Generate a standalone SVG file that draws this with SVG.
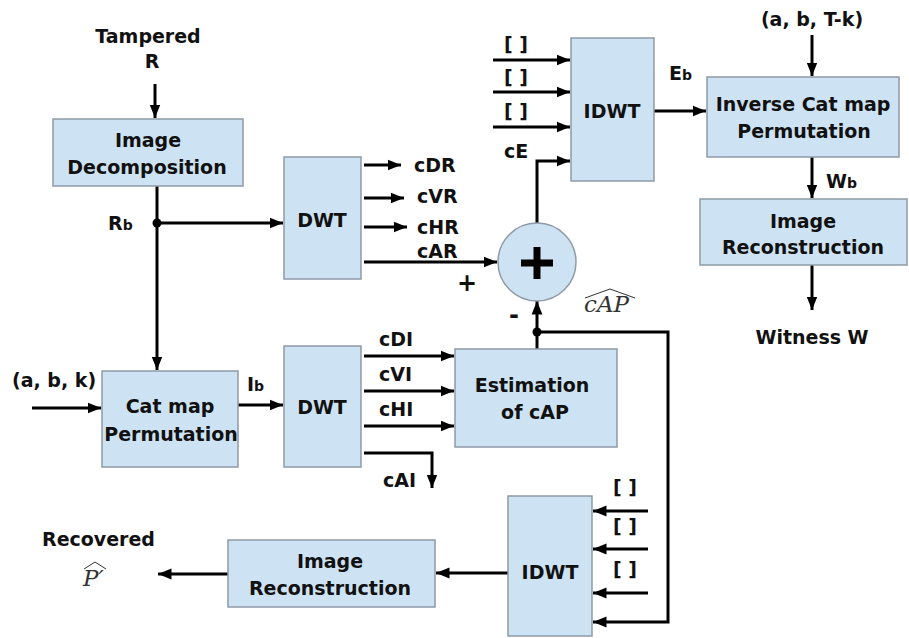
<svg xmlns="http://www.w3.org/2000/svg" width="909" height="638" viewBox="0 0 909 638">
<defs>
<marker id="ah" viewBox="0 0 10 10" refX="10" refY="5" markerWidth="4.5" markerHeight="4.5" orient="auto" markerUnits="strokeWidth">
<path d="M0,1 L10,5 L0,9 z" fill="#000"/>
</marker>
<style>
.box{fill:#cde3f3;stroke:#8e9aa6;stroke-width:1.5}
.t{font-family:"DejaVu Sans",Verdana,sans-serif;font-weight:bold;font-size:19px;fill:#111}
.m{text-anchor:middle}
.sub{font-size:14px}
.ln{fill:none;stroke:#000;stroke-width:3}
.ar{fill:none;stroke:#000;stroke-width:3;marker-end:url(#ah)}
.math{font-family:"DejaVu Serif","Liberation Serif",serif;font-style:italic;font-size:23px;fill:#333}
.hat{fill:none;stroke:#333;stroke-width:1}
</style>
</defs>
<rect width="909" height="638" fill="#fff"/>

<g id="labels">
<text class="t m" x="148" y="43">Tampered</text>
<text class="t m" x="152" y="68">R</text>
<text class="t" x="108" y="230">R<tspan class="sub">b</tspan></text>
<text class="t" x="12" y="387">(a, b, k)</text>
<text class="t" x="247" y="391">I<tspan class="sub">b</tspan></text>
<text class="t" x="414" y="172">cDR</text>
<text class="t" x="417" y="203">cVR</text>
<text class="t" x="417" y="234">cHR</text>
<text class="t" x="417" y="258">cAR</text>
<text class="t" x="457" y="291" style="font-size:24px">+</text>
<text class="t" x="509" y="323" style="font-size:24px">-</text>
<text class="t" x="379" y="346">cDI</text>
<text class="t" x="379" y="381">cVI</text>
<text class="t" x="379" y="416">cHI</text>
<text class="t" x="383" y="487">cAI</text>
<text class="t" x="504" y="51">[ ]</text>
<text class="t" x="504" y="84">[ ]</text>
<text class="t" x="504" y="118">[ ]</text>
<text class="t" x="504" y="158">cE</text>
<text class="t" x="669" y="80">E<tspan class="sub">b</tspan></text>
<text class="t m" x="812" y="26">(a, b, T-k)</text>
<text class="t" x="826" y="188">W<tspan class="sub">b</tspan></text>
<text class="t m" x="812" y="344">Witness  W</text>
<text class="t" x="613" y="494">[ ]</text>
<text class="t" x="613" y="533">[ ]</text>
<text class="t" x="613" y="576">[ ]</text>
<text class="t" x="42" y="546">Recovered</text>
<text class="math" x="584" y="312">cAP</text>
<path class="hat" d="M585,298 L610,289 L635,298"/>
<text class="math" x="83" y="586">P′</text>
<path class="hat" d="M84,569 L95,562 L106,569"/>
</g>

<g id="connectors">
<path class="ar" d="M155,84 V118"/>
<path class="ln" d="M157,186 V223"/>
<path class="ar" d="M157,223 V370"/>
<path class="ar" d="M157,223 H283"/>
<circle cx="157" cy="223" r="4.5" fill="#000"/>
<path class="ar" d="M364,165 H401"/>
<path class="ar" d="M364,198 H404"/>
<path class="ar" d="M364,227 H407"/>
<path class="ar" d="M364,262 H497"/>
<path class="ar" d="M32,408 H101"/>
<path class="ar" d="M238,405 H283"/>
<path class="ar" d="M364,356 H454"/>
<path class="ar" d="M364,391 H454"/>
<path class="ar" d="M364,426 H454"/>
<path class="ar" d="M364,453 H432 V488"/>
<path class="ar" d="M537,349 V301"/>
<circle cx="537" cy="332" r="4.5" fill="#000"/>
<path class="ar" d="M537,332 H668 V622 H593"/>
<path class="ar" d="M537,223 V161 H570"/>
<path class="ar" d="M493,60 H570"/>
<path class="ar" d="M493,92 H570"/>
<path class="ar" d="M493,127 H570"/>
<path class="ar" d="M654,111 H706"/>
<path class="ar" d="M812,35 V76"/>
<path class="ar" d="M812,157 V198"/>
<path class="ar" d="M812,265 V310"/>
<path class="ar" d="M648,511 H593"/>
<path class="ar" d="M648,549 H593"/>
<path class="ar" d="M648,593 H593"/>
<path class="ar" d="M508,573 H436"/>
<path class="ar" d="M228,574 H158"/>
</g>

<g id="decomp"><rect class="box" x="53" y="119" width="190" height="67"/>
<text class="t m" x="148" y="147">Image</text><text class="t m" x="147" y="174">Decomposition</text></g>
<g id="dwt1"><rect class="box" x="284" y="157" width="77" height="122"/>
<text class="t m" x="322" y="227">DWT</text></g>
<g id="catmap"><rect class="box" x="102" y="371" width="136" height="96"/>
<text class="t m" x="170" y="413">Cat map</text><text class="t m" x="171" y="441">Permutation</text></g>
<g id="dwt2"><rect class="box" x="284" y="346" width="77" height="121"/>
<text class="t m" x="322" y="414">DWT</text></g>
<g id="estim"><rect class="box" x="455" y="349" width="162" height="98"/>
<text class="t m" x="532" y="392">Estimation</text><text class="t m" x="535" y="419">of cAP</text></g>
<g id="sum"><circle cx="537" cy="262" r="39" fill="#cde3f3" stroke="#8e9aa6" stroke-width="1.5"/>
<path d="M537,247 V279 M521,263 H553" stroke="#000" stroke-width="7" fill="none"/></g>
<g id="idwt1"><rect class="box" x="571" y="38" width="83" height="143"/>
<text class="t m" x="612" y="118">IDWT</text></g>
<g id="invcat"><rect class="box" x="707" y="77" width="192" height="80"/>
<text class="t m" x="803" y="111">Inverse Cat map</text><text class="t m" x="804" y="138">Permutation</text></g>
<g id="recon1"><rect class="box" x="700" y="199" width="207" height="66"/>
<text class="t m" x="803" y="228">Image</text><text class="t m" x="803" y="254">Reconstruction</text></g>
<g id="idwt2"><rect class="box" x="508" y="496" width="84" height="140"/>
<text class="t m" x="550" y="579">IDWT</text></g>
<g id="recon2"><rect class="box" x="228" y="540" width="207" height="67"/>
<text class="t m" x="330" y="568">Image</text><text class="t m" x="330" y="595">Reconstruction</text></g>
</svg>
